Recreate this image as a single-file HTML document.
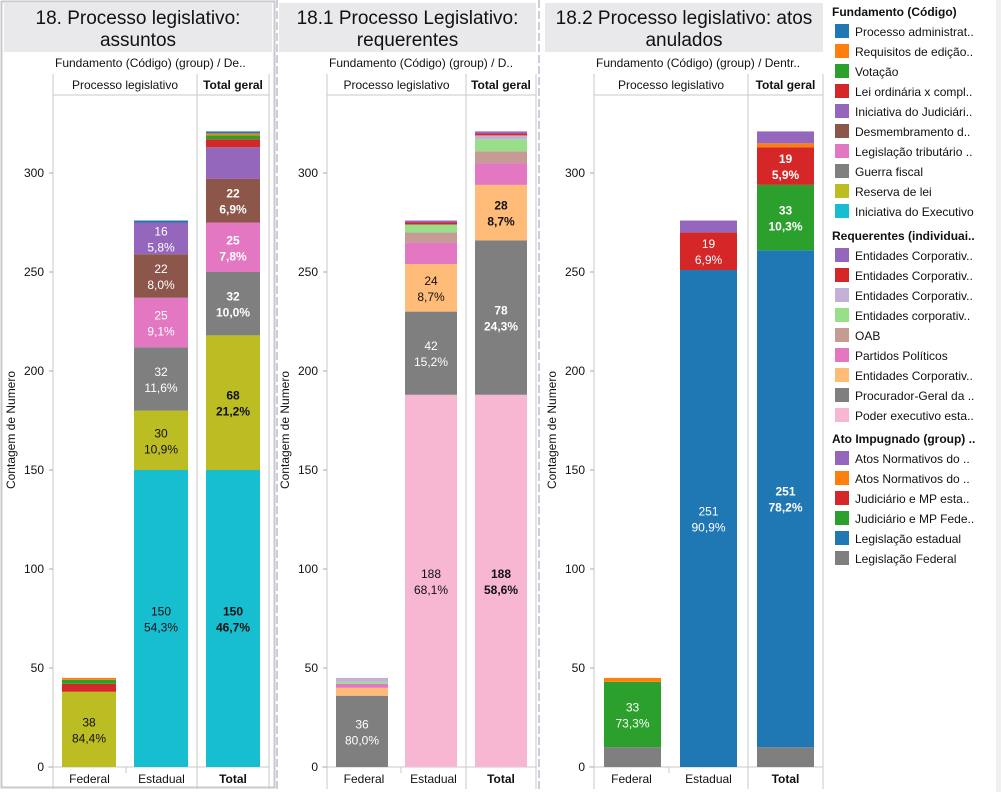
<!DOCTYPE html>
<html><head><meta charset="utf-8"><style>
body{margin:0;background:#fff;font-family:"Liberation Sans",Arial,sans-serif;}
#root{position:relative;width:1001px;height:792px;overflow:hidden;}
svg text{font-family:"Liberation Sans",Arial,sans-serif;}
</style></head><body>
<div id="root">
<svg id="svg" width="1001" height="792" xmlns="http://www.w3.org/2000/svg"></svg>
</div>
<script>
// ---- data ----
const categories = ["Federal","Estadual","Total"];
// Panel 1: Fundamento (bottom -> top)
const p1Series = ["Iniciativa do Executivo","Reserva de lei","Guerra fiscal","Legislação tributário","Desmembramento","Iniciativa do Judiciário","Lei ordinária x compl","Votação","Requisitos de edição","Processo administrativo"];
const p1Colors = ["#17becf","#bcbd22","#7f7f7f","#e377c2","#8c564b","#9467bd","#d62728","#2ca02c","#ff7f0e","#1f77b4"];
const p1Federal = [0,38,0,0,0,0,4,2,1,0];
const p1Estadual = [150,30,32,25,22,16,0,0,0,1];
const p1Total = [150,68,32,25,22,16,4,2,1,1];
// Panel 2: Requerentes (bottom -> top)
const p2Series = ["Poder executivo estadual","Procurador-Geral","Entidades Corporativas A","Partidos Políticos","OAB","Entidades corporativas B","Entidades Corporativas C","Entidades Corporativas D","Entidades Corporativas E"];
const p2Colors = ["#f7b6d2","#7f7f7f","#ffbb78","#e377c2","#c49c94","#98df8a","#c5b0d5","#d62728","#9467bd"];
const p2Federal = [0,36,4,2,0,1,2,0,0];
const p2Estadual = [188,42,24,11,5,4,0,1,1];
const p2Total = [188,78,28,11,6,6,2,1,1];
// Panel 3: Ato impugnado (bottom -> top)
const p3Series = ["Legislação Federal","Legislação estadual","Judiciário e MP Federal","Judiciário e MP estadual","Atos Normativos B","Atos Normativos A"];
const p3Colors = ["#7f7f7f","#1f77b4","#2ca02c","#d62728","#ff7f0e","#9467bd"];
const p3Federal = [10,0,33,0,2,0];
const p3Estadual = [0,251,0,19,0,6];
const p3Total = [10,251,33,19,2,6];
const yTicks = [0,50,100,150,200,250,300];
const minLabel = 12;
const minLabelTotal = 17;

const svg = document.getElementById('svg');
const NS = "http://www.w3.org/2000/svg";
function el(tag, attrs, parent){const e=document.createElementNS(NS,tag);for(const k in attrs)e.setAttribute(k,attrs[k]);(parent||svg).appendChild(e);return e;}
function txt(s, attrs, parent){const e=el('text',attrs,parent);e.textContent=s;return e;}
const Y0=767, PXU=1.98;
function yScale(v){return Y0 - v*PXU;}
const darkText = {"#bcbd22":1,"#17becf":1,"#f7b6d2":1,"#ffbb78":1};

function panel(cfg, series, colors, values){
  const g = el('g',{});
  
  
  const tb = el('rect',{x:cfg.tx,y:3,width:cfg.tw,height:49,fill:'#e9e9ec'},g);
  
  
  cfg.title.forEach((t,i)=>{
    const tt = txt(t,{x:cfg.tx+cfg.tw/2,y:24+i*22,'font-size':19,'text-anchor':'middle',fill:'#111'},g);
    
    
  });
  const sub = txt(cfg.sub,{x:cfg.ax+2,y:67,'font-size':12,fill:'#111'},g);
  
  
  const L=cfg.ax, R=cfg.right, d1=cfg.div1, d2=cfg.div2;
  el('line',{x1:L,y1:74,x2:L,y2:789,stroke:'#c8c8c8'},g);
  el('line',{x1:d2,y1:74,x2:d2,y2:789,stroke:'#c8c8c8'},g);
  el('line',{x1:R,y1:74,x2:R,y2:789,stroke:'#c8c8c8'},g);
  el('line',{x1:L,y1:95,x2:R,y2:95,stroke:'#c8c8c8'},g);
  el('line',{x1:L-5,y1:Y0,x2:R,y2:Y0,stroke:'#c8c8c8'},g);
  el('line',{x1:d1,y1:Y0,x2:d1,y2:773,stroke:'#c8c8c8'},g);
  const h1 = txt("Processo legislativo",{x:(L+d2)/2,y:89,'font-size':12,'text-anchor':'middle',fill:'#111'},g);
  
  
  const h2 = txt("Total geral",{x:(d2+R)/2,y:89,'font-size':12,'font-weight':'bold','text-anchor':'middle',fill:'#111'},g);
  
  
  yTicks.forEach(t=>{
    el('line',{x1:L-4,y1:yScale(t),x2:L,y2:yScale(t),stroke:'#aaa'},g);
    const tl = txt(String(t),{x:L-9,y:yScale(t)+4,'font-size':12,'text-anchor':'end',fill:'#111'},g);
    
    
  });
  const yt = txt("Contagem de Numero",{x:0,y:0,'font-size':12,fill:'#111','text-anchor':'middle',transform:`translate(${L-38},430) rotate(-90)`},g);
  
  
  categories.forEach((c,ci)=>{
    const vals = values[ci];
    const total = vals.reduce((a,b)=>a+b,0);
    const bx = cfg.bars[ci], bw = cfg.bw;
    const bold = ci===2;
    const thr = bold ? minLabelTotal : minLabel;
    let cum=0;
    vals.forEach((v,si)=>{
      if(v<=0) return;
      const y1=yScale(cum+v), y2=yScale(cum);
      const r = el('rect',{x:bx,y:y1,width:bw,height:y2-y1,fill:colors[si]},g);
      
      
      if(v>=thr){
        const col = darkText[colors[si]]?'#111':'#fff';
        const cy=(y1+y2)/2;
        const pct=(v/total*100).toFixed(1).replace('.',',')+'%';
        const a = txt(String(v),{x:bx+bw/2,y:cy-3,'font-size':12,'text-anchor':'middle',fill:col,'font-weight':bold?'bold':'normal'},g);
        
        
        const b = txt(pct,{x:bx+bw/2,y:cy+13,'font-size':12,'text-anchor':'middle',fill:col,'font-weight':bold?'bold':'normal'},g);
        
        
      }
      cum+=v;
    });
    const xl = txt(c,{x:(ci===0?(L+d1)/2:ci===1?(d1+d2)/2:(d2+R)/2),y:783,'font-size':12,'text-anchor':'middle',fill:'#111','font-weight':bold?'bold':'normal'},g);
    
    
  });
}

const fr = el('rect',{x:1.5,y:1.5,width:273,height:786,fill:'none',stroke:'#c9c9cc','stroke-width':2});


[277,539].forEach(x=>{
  const s = el('line',{x1:x,y1:0,x2:x,y2:792,stroke:'#c5cfe0','stroke-width':2,'stroke-dasharray':'8,3'});
  
  
});

panel({name:'panel-assuntos',tx:4,tw:268,title:["18. Processo legislativo:","assuntos"],sub:"Fundamento (Código) (group)  /  De..",ax:53,div1:126,div2:197,right:269,bars:[62,134,206],bw:54},
  p1Series,p1Colors,[p1Federal,p1Estadual,p1Total]);
panel({name:'panel-requerentes',tx:279,tw:257,title:["18.1 Processo Legislativo:","requerentes"],sub:"Fundamento (Código) (group)  /  D..",ax:327,div1:401,div2:466,right:536,bars:[336,405,475],bw:52},
  p2Series,p2Colors,[p2Federal,p2Estadual,p2Total]);
panel({name:'panel-atos-anulados',tx:545,tw:278,title:["18.2 Processo legislativo: atos","anulados"],sub:"Fundamento (Código) (group)  /  Dentr..",ax:594,div1:669,div2:748,right:823,bars:[604,680,757],bw:57},
  p3Series,p3Colors,[p3Federal,p3Estadual,p3Total]);

const legends = [
  {h:"Fundamento (Código)",y:12,items:[["#1f77b4","Processo administrat.."],["#ff7f0e","Requisitos de edição.."],["#2ca02c","Votação"],["#d62728","Lei ordinária x compl.."],["#9467bd","Iniciativa do Judiciári.."],["#8c564b","Desmembramento d.."],["#e377c2","Legislação tributário .."],["#7f7f7f","Guerra fiscal"],["#bcbd22","Reserva de lei"],["#17becf","Iniciativa do Executivo"]]},
  {h:"Requerentes (individuai..",y:236,items:[["#9467bd","Entidades Corporativ.."],["#d62728","Entidades Corporativ.."],["#c5b0d5","Entidades Corporativ.."],["#98df8a","Entidades corporativ.."],["#c49c94","OAB"],["#e377c2","Partidos Políticos"],["#ffbb78","Entidades Corporativ.."],["#7f7f7f","Procurador-Geral da .."],["#f7b6d2","Poder executivo esta.."]]},
  {h:"Ato Impugnado (group) ..",y:439,items:[["#9467bd","Atos Normativos do .."],["#ff7f0e","Atos Normativos do .."],["#d62728","Judiciário e MP esta.."],["#2ca02c","Judiciário e MP Fede.."],["#1f77b4","Legislação estadual"],["#7f7f7f","Legislação Federal"]]}
];
legends.forEach(lg=>{
  const g = el('g',{});
  
  
  const h = txt(lg.h,{x:832,y:lg.y+4,'font-size':12,'font-weight':'bold',fill:'#111'},g);
  
  
  lg.items.forEach((it,i)=>{
    const cy = lg.y+19+i*20;
    const r = el('rect',{x:835,y:cy-7,width:14,height:14,fill:it[0]},g);
    
    
    const t = txt(it[1],{x:855,y:cy+5,'font-size':12,fill:'#111'},g);
    
    
  });
});
const sb = el('rect',{x:996,y:0,width:5,height:792,fill:'#f0f0f0'});


</script>
</body></html>
